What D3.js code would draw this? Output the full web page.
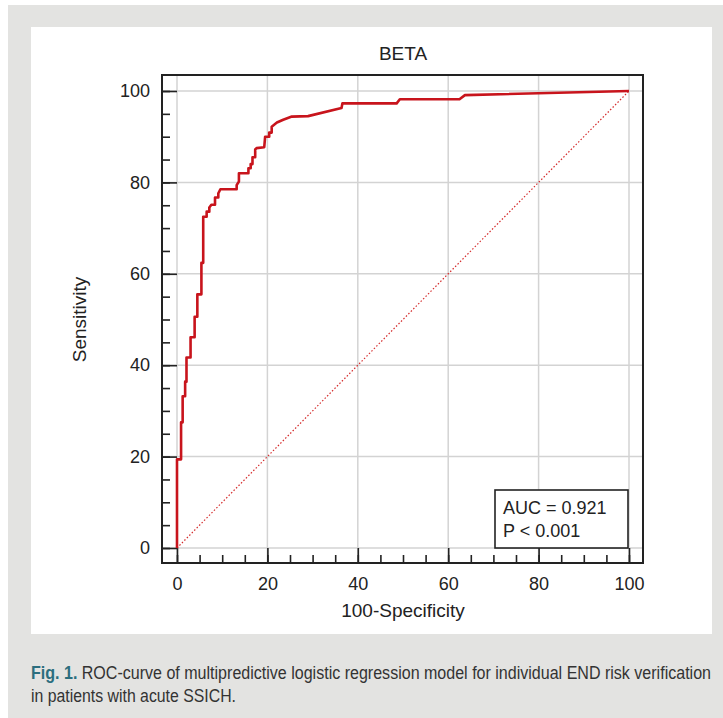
<!DOCTYPE html>
<html>
<head>
<meta charset="utf-8">
<script src="https://cdn.jsdelivr.net/npm/d3@7"></script>
<style>
    body { margin: 0; background: #fff; }
    svg { display: block; }
    .grid line { stroke: #d3d3d3; stroke-width: 1.5; }
    .axis path { display: none; }
    .axis line { stroke: #222; stroke-width: 1.6; }
    .axis text { font-family: "Liberation Sans", Arial, sans-serif; font-size: 18px; fill: #222; }
    .lbl { font-family: "Liberation Sans", Arial, sans-serif; font-size: 19px; fill: #222; }
</style>
</head>
<body>
<svg width="723" height="718"></svg>
<script>
const width = 723;
const height = 718;
const svg = d3.select("svg");

// ROC curve vertices: [100-Specificity, Sensitivity]
const fpr = [0, 0, 0.9, 0.9, 1.25, 1.25, 1.8, 1.8, 2.1, 2.1, 3.0, 3.0, 3.9, 3.9, 4.5, 4.5, 5.4, 5.4,
    5.8, 5.8, 6.56, 6.56, 7.15, 7.15, 7.6, 8.41, 8.41, 9.14, 9.14, 9.6, 13.2, 13.2, 13.7, 13.7,
    15.8, 15.8, 16.3, 16.3, 16.7, 16.7, 17.3, 17.3, 17.6, 19.3, 19.5, 20.4, 20.4, 20.95, 20.95,
    22.1, 23.5, 25.4, 29.0, 36.4, 36.6, 48.6, 49.3, 62.5, 63.7, 100];
const tpr = [0, 19.4, 19.4, 27.5, 27.5, 33.2, 33.2, 36.4, 36.4, 41.7, 41.7, 46.1, 46.1, 50.6, 50.6, 55.5, 55.5, 62.4,
    62.4, 72.5, 72.5, 73.6, 73.6, 74.5, 75.1, 75.1, 76.7, 76.7, 77.6, 78.5, 78.5, 79.4, 80.2, 82.0,
    82.0, 83.1, 83.1, 84.0, 84.0, 85.5, 85.5, 87.2, 87.5, 87.7, 90.0, 90.0, 90.9, 90.9, 92.2,
    93.1, 93.7, 94.4, 94.5, 96.3, 97.3, 97.3, 98.2, 98.2, 99.1, 100];
const majorTicks = [0, 20, 40, 60, 80, 100];
const minorTicks = d3.range(0, 101, 5);
const title = "BETA";
const xLabel = "100-Specificity";
const yLabel = "Sensitivity";
const legendLines = ["AUC = 0.921", "P < 0.001"];
const captionHead = "Fig. 1.";
const captionLines = [" ROC-curve of multipredictive logistic regression model for individual END risk verification",
    "in patients with acute SSICH."];

// background panels
svg.append("rect").attr("x", 8).attr("y", 5).attr("width", width - 8).attr("height", height - 5).attr("fill", "#e3e3e1");
svg.append("rect").attr("x", 31).attr("y", 27).attr("width", 681).attr("height", 607).attr("fill", "#fff");

const frame = { left: 162, top: 75, right: 643, bottom: 563 };
const x = d3.scaleLinear().domain([0, 100]).range([177, 629]);
const y = d3.scaleLinear().domain([0, 100]).range([548, 91]);

// grid
const grid = svg.append("g").attr("class", "grid");
grid.selectAll(".gx").data(majorTicks).enter().append("line")
    .attr("x1", d => x(d)).attr("x2", d => x(d))
    .attr("y1", frame.top).attr("y2", frame.bottom);
grid.selectAll(".gy").data(majorTicks).enter().append("line")
    .attr("x1", frame.left).attr("x2", frame.right)
    .attr("y1", d => y(d)).attr("y2", d => y(d));

// axes
svg.append("g").attr("class", "axis").attr("transform", `translate(${frame.left},0)`)
    .call(d3.axisLeft(y).tickValues(minorTicks).tickSize(-8).tickFormat(""));
svg.append("g").attr("class", "axis").attr("transform", `translate(${frame.left},0)`)
    .call(d3.axisLeft(y).tickValues(majorTicks).tickSize(-15).tickPadding(12).tickFormat(d3.format("d")));
svg.append("g").attr("class", "axis").attr("transform", `translate(0,${frame.bottom})`)
    .call(d3.axisBottom(x).tickValues(minorTicks).tickSize(-8).tickFormat(""));
svg.append("g").attr("class", "axis").attr("transform", `translate(0,${frame.bottom})`)
    .call(d3.axisBottom(x).tickValues(majorTicks).tickSize(-15).tickPadding(14).tickFormat(d3.format("d")));

// frame
svg.append("rect")
    .attr("x", frame.left).attr("y", frame.top)
    .attr("width", frame.right - frame.left).attr("height", frame.bottom - frame.top)
    .attr("fill", "none").attr("stroke", "#222").attr("stroke-width", 2);

// diagonal reference
svg.append("line")
    .attr("x1", x(0)).attr("y1", y(0)).attr("x2", x(100)).attr("y2", y(100))
    .attr("stroke", "#d42a2a").attr("stroke-width", 1.2).attr("stroke-dasharray", "1.5,2");

// ROC curve
const line = d3.line().x(d => x(d[0])).y(d => y(d[1]));
svg.append("path")
    .datum(d3.zip(fpr, tpr))
    .attr("d", line)
    .attr("fill", "none")
    .attr("stroke", "#c8141c")
    .attr("stroke-width", 2.6)
    .attr("stroke-linejoin", "round");

// legend box
svg.append("rect").attr("x", 495).attr("y", 490).attr("width", 133).attr("height", 58)
    .attr("fill", "#fff").attr("stroke", "#222").attr("stroke-width", 1.6);
svg.selectAll(".leg").data(legendLines).enter().append("text")
    .attr("class", "lbl").style("font-size", "18px")
    .attr("x", 503).attr("y", (d, i) => 514 + i * 23)
    .text(d => d);

// titles
svg.append("text").attr("class", "lbl").attr("x", (x(0) + x(100)) / 2).attr("y", 60)
    .attr("text-anchor", "middle").text(title);
svg.append("text").attr("class", "lbl").attr("x", (x(0) + x(100)) / 2).attr("y", 617)
    .attr("text-anchor", "middle").text(xLabel);
svg.append("text").attr("class", "lbl")
    .attr("transform", `translate(86,${(y(0) + y(100)) / 2}) rotate(-90)`)
    .attr("text-anchor", "middle").text(yLabel);

// caption: stretched vertically for the condensed look
const cap = svg.append("text")
    .attr("transform", "translate(31,679) scale(1,1.12)")
    .attr("textLength", 680).attr("lengthAdjust", "spacingAndGlyphs")
    .style("font-family", "'Liberation Sans', Arial, sans-serif").style("font-size", "16px").attr("fill", "#333");
cap.append("tspan").attr("fill", "#2b6e7e").style("font-weight", "bold").text(captionHead);
cap.append("tspan").text(captionLines[0]);
svg.append("text")
    .attr("transform", "translate(31,702) scale(1,1.12)")
    .attr("textLength", 205).attr("lengthAdjust", "spacingAndGlyphs")
    .style("font-family", "'Liberation Sans', Arial, sans-serif").style("font-size", "16px").attr("fill", "#333")
    .text(captionLines[1]);
</script>
</body>
</html>
